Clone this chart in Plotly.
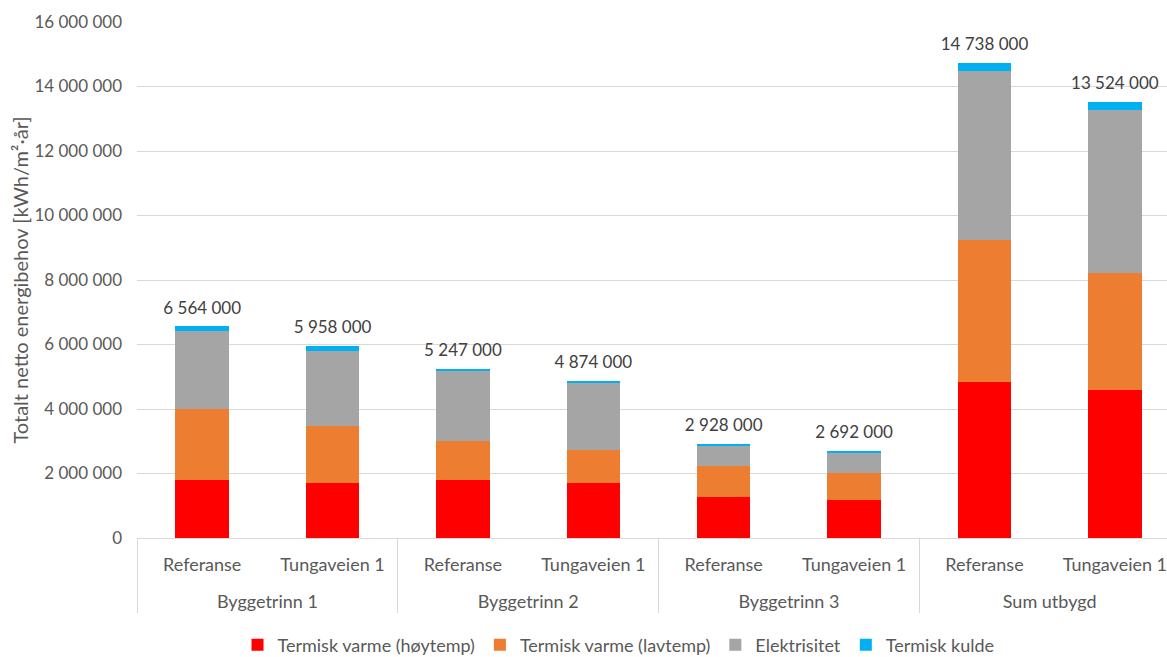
import plotly.graph_objects as go

# Categories (group, scenario)
groups = ["Byggetrinn 1", "Byggetrinn 1", "Byggetrinn 2", "Byggetrinn 2",
          "Byggetrinn 3", "Byggetrinn 3", "Sum utbygd", "Sum utbygd"]
scenarios = ["Referanse", "Tungaveien 1"] * 4

# Energy demand components (kWh/år)
hoytemp = [1800000, 1700000, 1790000, 1700000, 1260000, 1190000, 4850000, 4590000]
lavtemp = [2200000, 1770000, 1220000, 1040000, 970000, 830000, 4390000, 3640000]
elektrisitet = [2420000, 2338000, 2187000, 2084000, 648000, 632000, 5254000, 5054000]
kulde = [144000, 150000, 50000, 50000, 50000, 40000, 244000, 240000]

series_names = ["Termisk varme (høytemp)", "Termisk varme (lavtemp)",
                "Elektrisitet", "Termisk kulde"]
series_values = [hoytemp, lavtemp, elektrisitet, kulde]
series_colors = ["#FF0000", "#ED7D31", "#A5A5A5", "#00B0F0"]

y_ticks = [0, 2000000, 4000000, 6000000, 8000000, 10000000, 12000000, 14000000, 16000000]

totals = [sum(v) for v in zip(*series_values)]

FONT = "Lato"
TXT = "#595959"

# scenario labels get a blank second line so the group row sits lower
scenario_labels = [s + "<br> " for s in scenarios]
x = [groups, scenario_labels]

fig = go.Figure()
for name, vals, col in zip(series_names, series_values, series_colors):
    fig.add_trace(go.Bar(x=x, y=vals, name=name, marker=dict(color=col, line=dict(width=0))))

# total labels above each stack
fig.add_trace(go.Scatter(
    x=x, y=totals, mode="markers+text",
    marker=dict(size=12, color="rgba(0,0,0,0)"),
    text=[f"{t:,}".replace(",", " ") for t in totals],
    textposition="top center",
    textfont=dict(family=FONT, size=17, color="#404040"),
    showlegend=False, hoverinfo="skip",
))

fig.update_layout(
    width=1167, height=657,
    margin=dict(l=137, r=0, t=22, b=119),
    barmode="stack", bargap=0.59,
    separators=", ",
    plot_bgcolor="white", paper_bgcolor="white",
    font=dict(family=FONT, size=17, color=TXT),
    legend=dict(
        orientation="h", xref="container", yref="container",
        x=0.53, xanchor="center", y=0.018, yanchor="middle",
        traceorder="normal",
        font=dict(family=FONT, size=18, color=TXT),
        itemwidth=30, tracegroupgap=0,
    ),
)

fig.update_yaxes(
    range=[0, 16000000], tickvals=y_ticks, tickformat=",d",
    showgrid=True, gridcolor="#D9D9D9", gridwidth=1,
    zeroline=False, showline=False,
    ticklabelstandoff=14,
    tickfont=dict(family=FONT, size=17, color=TXT),
    title=dict(text="Totalt netto energibehov [kWh/m²·år]",
               font=dict(family=FONT, size=20, color=TXT), standoff=0),
)
fig.update_xaxes(
    type="multicategory", range=[-0.5, 7.4],
    showline=True, linecolor="#D9D9D9", linewidth=1,
    showdividers=True, dividercolor="#D9D9D9", dividerwidth=1,
    ticklabelstandoff=10,
    tickfont=dict(family=FONT, size=18, color=TXT),
)

fig.write_html("out.html")
